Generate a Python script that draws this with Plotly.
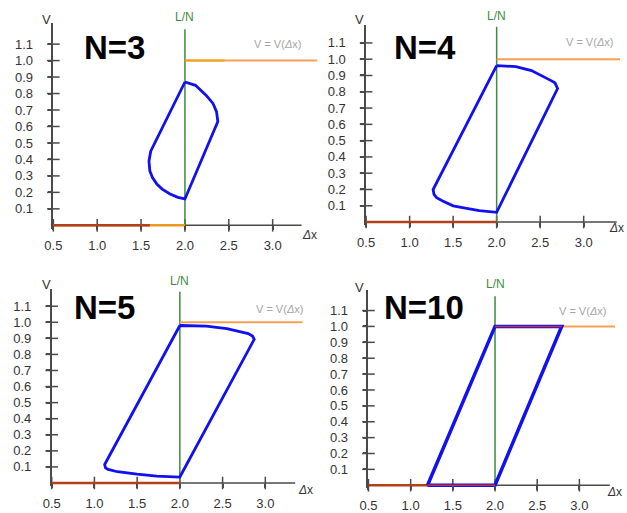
import plotly.graph_objects as go

W, H = 627, 513

# ---------------- data ----------------
panel_titles = ["N=3", "N=4", "N=5", "N=10"]
x_ticks = [0.5, 1.0, 1.5, 2.0, 2.5, 3.0]
x_tick_labels = ["0.5", "1.0", "1.5", "2.0", "2.5", "3.0"]
v_ticks = [0.1, 0.2, 0.3, 0.4, 0.5, 0.6, 0.7, 0.8, 0.9, 1.0, 1.1]
v_tick_labels = ["0.1", "0.2", "0.3", "0.4", "0.5", "0.6", "0.7", "0.8", "0.9", "1.0", "1.1"]
L_over_N = 2.0

# hysteresis loops (Δx, V)
loop_n3_x = [2.0, 2.12, 2.24, 2.32, 2.36, 2.375, 2.0, 1.92, 1.83, 1.74, 1.68, 1.63, 1.60, 1.59, 1.61, 2.0]
loop_n3_v = [0.87, 0.85, 0.79, 0.74, 0.69, 0.63, 0.16, 0.17, 0.19, 0.22, 0.25, 0.29, 0.33, 0.39, 0.45, 0.87]

loop_n4_x = [2.0, 2.22, 2.40, 2.52, 2.62, 2.67, 2.70, 2.0, 1.80, 1.64, 1.50, 1.38, 1.31, 1.28, 1.27, 2.0]
loop_n4_v = [0.96, 0.955, 0.93, 0.90, 0.87, 0.855, 0.82, 0.06, 0.07, 0.085, 0.10, 0.13, 0.15, 0.17, 0.20, 0.96]

loop_n5_x = [2.0, 2.31, 2.55, 2.69, 2.80, 2.85, 2.87, 2.0, 1.73, 1.50, 1.27, 1.16, 1.13, 1.12, 2.0]
loop_n5_v = [0.98, 0.976, 0.96, 0.945, 0.93, 0.914, 0.894, 0.037, 0.043, 0.055, 0.07, 0.085, 0.094, 0.115, 0.98]

loop_n10_x = [1.2, 2.0, 2.79, 2.0, 1.2]
loop_n10_v = [0.0, 1.0, 1.0, 0.0, 0.0]

loops = [(loop_n3_x, loop_n3_v), (loop_n4_x, loop_n4_v),
         (loop_n5_x, loop_n5_v), (loop_n10_x, loop_n10_v)]

# step function V = V(Δx)
step_low_x = [0.5, 2.0]
step_low_v = [0.0, 0.0]
step_high_v = [1.0, 1.0]

# ---------------- layout geometry (pixels) ----------------
geo = [
    dict(x0=45.0, kx=89.0, right=313, y0=228.0, ky=166.7, top=23, xend=3.33, gtop=1.19),
    dict(x0=362.3, kx=88.3, right=620, y0=224.7, ky=164.8, top=25, xend=3.38, gtop=1.20),
    dict(x0=43.3, kx=86.7, right=298, y0=488.7, ky=162.6, top=292, xend=3.35, gtop=1.19),
    dict(x0=364.7, kx=85.6, right=615, y0=491.0, ky=160.7, top=293, xend=3.36, gtop=1.19),
]
VMIN = -0.02

AX = "#4a4a4a"
TXT = "#333333"
GREEN = "#3c8c3c"
BLUE = "#1010f0"
ORANGE = "#f5a055"
RED = "#b2401a"
FONT = "Liberation Sans, Arial, sans-serif"

fig = go.Figure()
layout = dict(width=W, height=H, margin=dict(l=0, r=0, t=0, b=0),
              paper_bgcolor="white", plot_bgcolor="white", showlegend=False)
annotations = []


def px2x(p):
    return p / W


def px2y(p):
    return 1 - p / H


for i, g in enumerate(geo):
    n = i + 1
    xa, ya = f"x{n}", f"y{n}"
    xmax = 0.5 + (g["right"] - g["x0"]) / g["kx"]
    vmax = (g["y0"] - g["top"]) / g["ky"]
    bottom_px = g["y0"] - VMIN * g["ky"]
    xdom = [px2x(g["x0"]), px2x(g["right"])]
    ydom = [px2y(bottom_px), px2y(g["top"])]
    xpos = px2y(g["y0"])

    layout[f"xaxis{n}"] = dict(range=[0.5, xmax], domain=xdom, showgrid=False, zeroline=False,
                               showline=False, tickvals=x_ticks, ticktext=x_tick_labels,
                               ticks="outside", ticklen=4, tickwidth=1.5, tickcolor=AX,
                               tickfont=dict(family=FONT, size=13, color=TXT),
                               anchor="free", position=xpos, ticklabelstandoff=4)
    layout[f"yaxis{n}"] = dict(range=[VMIN, vmax], domain=ydom, showgrid=False, zeroline=False,
                               tickvals=v_ticks, ticktext=v_tick_labels,
                               ticks="outside", ticklen=4, tickwidth=1.5, tickcolor=AX,
                               tickfont=dict(family=FONT, size=13, color=TXT),
                               anchor=xa, showline=True, linecolor=AX, linewidth=1.5,
                               ticklabelstandoff=12)

    # Δx axis line
    fig.add_trace(go.Scatter(x=[0.5, g["xend"]], y=[0, 0], xaxis=xa, yaxis=ya, mode="lines",
                             line=dict(color=AX, width=1.5), hoverinfo="skip"))
    # crossing tick marks
    fig.add_trace(go.Scatter(x=x_ticks, y=[0] * len(x_ticks), xaxis=xa, yaxis=ya,
                             mode="markers", cliponaxis=False, hoverinfo="skip",
                             marker=dict(symbol="line-ns", size=9,
                                         line=dict(color=AX, width=1.5))))
    fig.add_trace(go.Scatter(x=[0.5] * len(v_ticks), y=v_ticks, xaxis=xa, yaxis=ya,
                             mode="markers", cliponaxis=False, hoverinfo="skip",
                             marker=dict(symbol="line-ew", size=9,
                                         line=dict(color=AX, width=1.5))))
    # L/N line
    fig.add_trace(go.Scatter(x=[L_over_N, L_over_N], y=[0, g["gtop"]], xaxis=xa, yaxis=ya,
                             mode="lines", line=dict(color=GREEN, width=1.5), hoverinfo="skip"))
    # step function
    fig.add_trace(go.Scatter(x=step_low_x, y=step_low_v, xaxis=xa, yaxis=ya, mode="lines",
                             line=dict(color=RED if i > 0 else "#e89a20", width=2.5),
                             hoverinfo="skip"))
    if i == 0:
        fig.add_trace(go.Scatter(x=[0.5, 1.6], y=step_low_v, xaxis=xa, yaxis=ya, mode="lines",
                                 line=dict(color=RED, width=2.5), hoverinfo="skip"))
    fig.add_trace(go.Scatter(x=[L_over_N, xmax], y=step_high_v, xaxis=xa, yaxis=ya,
                             mode="lines", line=dict(color=ORANGE, width=2), hoverinfo="skip"))
    if i == 0:
        fig.add_trace(go.Scatter(x=[L_over_N, 2.45], y=step_high_v, xaxis=xa, yaxis=ya,
                                 mode="lines", line=dict(color="#f0a010", width=2),
                                 hoverinfo="skip"))
    # loop
    lx, lv = loops[i]
    fig.add_trace(go.Scatter(x=lx, y=lv, xaxis=xa, yaxis=ya, mode="lines",
                             line=dict(color=BLUE, width=3.5 if i == 3 else 2.8),
                             hoverinfo="skip"))
    if i == 3:
        fig.add_trace(go.Scatter(x=[L_over_N, lx[2]], y=step_high_v, xaxis=xa, yaxis=ya,
                                 mode="lines", line=dict(color="#c83030", width=1.5),
                                 hoverinfo="skip"))
        fig.add_trace(go.Scatter(x=[lx[0], L_over_N], y=step_low_v, xaxis=xa, yaxis=ya,
                                 mode="lines", line=dict(color="#c83030", width=1.5),
                                 hoverinfo="skip"))

# ---------------- text ----------------
titles_pos = [(107, 48), (422, 48), (97, 311), (421, 311)]
v_pos = [(38, 20), (356, 20), (38, 288), (356, 291)]
ln_y = [17, 16, 284, 287]
dx_pos = [(305, 238), (616, 231), (301, 496), (614, 498)]
vf_pos = [(298, 45), (615, 42), (300, 313), (608, 315)]

for i in range(4):
    n = i + 1
    annotations.append(dict(text=f"<b>{panel_titles[i]}</b>", xref="paper", yref="paper",
                            x=px2x(titles_pos[i][0]), y=px2y(titles_pos[i][1]),
                            xanchor="center", yanchor="middle", showarrow=False,
                            font=dict(family=FONT, size=33, color="black")))
    annotations.append(dict(text="V", xref="paper", yref="paper",
                            x=px2x(v_pos[i][0]), y=px2y(v_pos[i][1]),
                            xanchor="center", yanchor="middle", showarrow=False,
                            font=dict(family=FONT, size=13, color=TXT)))
    annotations.append(dict(text="L/N", xref=f"x{n}", yref="paper",
                            x=L_over_N, y=px2y(ln_y[i]),
                            xanchor="center", yanchor="middle", showarrow=False,
                            font=dict(family=FONT, size=12, color=GREEN)))
    annotations.append(dict(text="<i>Δ</i>x", xref="paper", yref="paper",
                            x=px2x(dx_pos[i][0]), y=px2y(dx_pos[i][1]),
                            xanchor="center", yanchor="middle", showarrow=False,
                            font=dict(family=FONT, size=12, color=TXT)))
    annotations.append(dict(text="V = V(<i>Δ</i>x)", xref="paper", yref="paper",
                            x=px2x(vf_pos[i][0]), y=px2y(vf_pos[i][1]),
                            xanchor="right", yanchor="middle", showarrow=False,
                            font=dict(family=FONT, size=11, color="#a5a5a5")))

layout["annotations"] = annotations
fig.update_layout(**layout)
fig.write_html("out.html")
